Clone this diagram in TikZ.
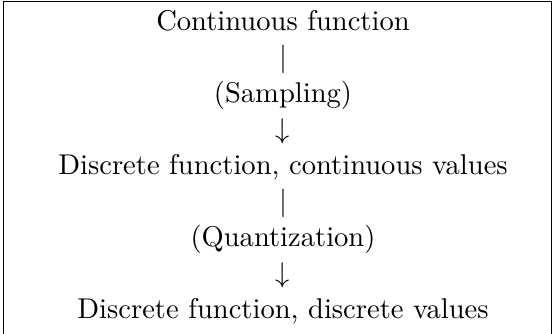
\documentclass[tikz,border=0pt]{standalone}
\begin{document}
\begin{tikzpicture}[x=0.35pt,y=-0.35pt,
  line/.style={anchor=base,inner sep=0pt,outer sep=0pt},
  frame/.style={draw=black,line width=0.4pt}]
\useasboundingbox (0,0) rectangle (552,333);
\draw[frame] (3.3,1.7) -- (551.7,1.7) -- (551.7,340) (3.3,1.7) -- (3.3,340);
\node[line] (cf)  at (283,30)  {Continuous function};
\node[line] (b1)  at (283,66)  {$|$};
\node[line] (smp) at (283,102) {(Sampling)};
\node[line] (a1)  at (283,138) {$\downarrow$};
\node[line] (dfc) at (283,174) {Discrete function, continuous values};
\node[line] (b2)  at (283,210) {$|$};
\node[line] (qnt) at (283,246) {(Quantization)};
\node[line] (a2)  at (283,282) {$\downarrow$};
\node[line] (dfd) at (283,318) {Discrete function, discrete values};
\end{tikzpicture}
\end{document}
